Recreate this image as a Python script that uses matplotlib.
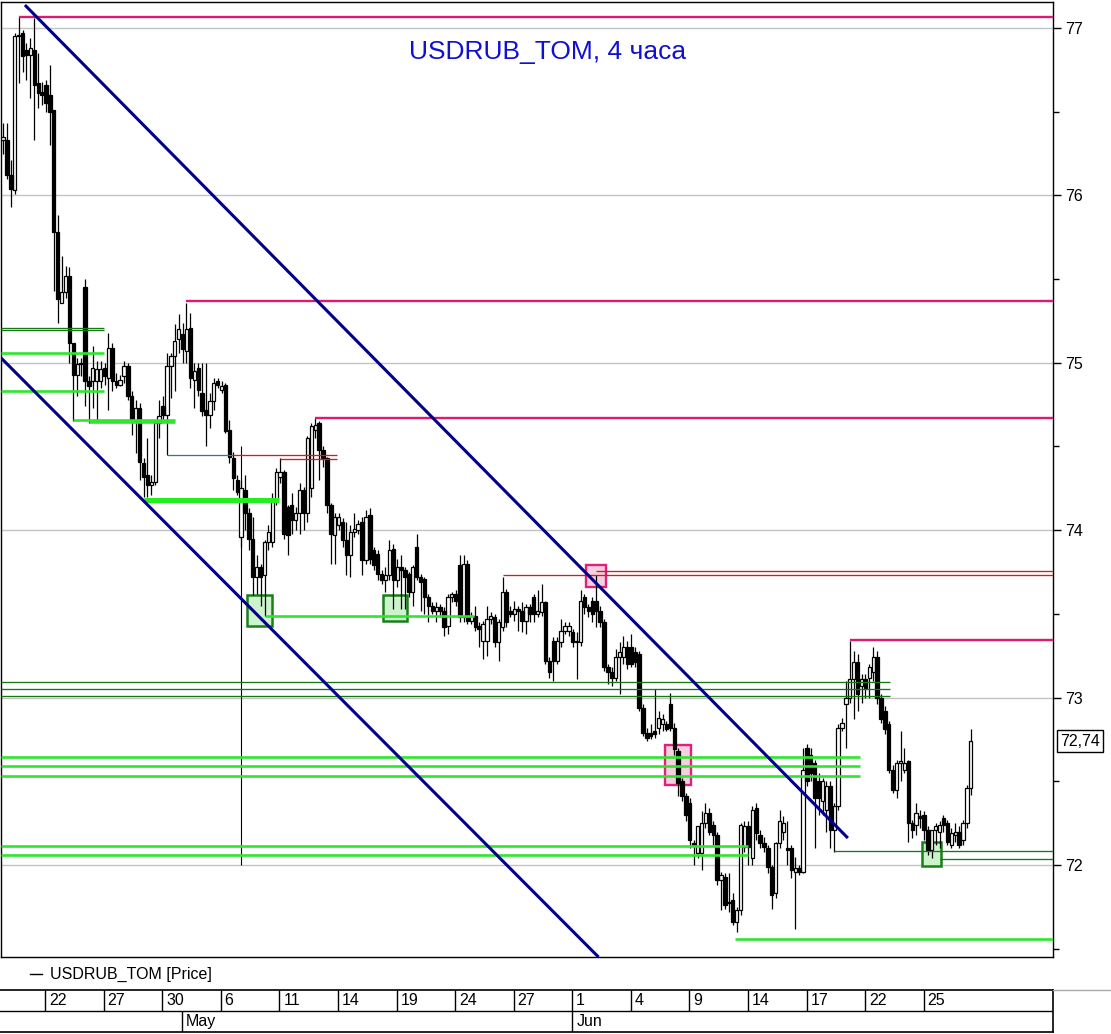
import matplotlib
matplotlib.use("Agg")
import matplotlib.pyplot as plt
from matplotlib.patches import Rectangle
from matplotlib.lines import Line2D
import numpy as np

# 4h bars (open, high, low, close), five bars a trading day
apr = [
    (76.33, 76.43, 76.25, 76.35), (76.33, 76.43, 76.10, 76.12), (76.12, 76.21, 75.93, 76.04),
    (76.03, 76.97, 76.01, 76.95), (76.95, 77.07, 76.67, 76.96), (76.97, 76.99, 76.74, 76.83),
    (76.87, 76.91, 76.69, 76.84), (76.84, 76.94, 76.58, 76.88), (76.87, 77.06, 76.33, 76.66),
    (76.67, 76.85, 76.52, 76.61), (76.62, 76.68, 76.54, 76.60), (76.66, 76.69, 76.50, 76.55),
    (76.60, 76.78, 76.30, 76.50), (76.51, 76.51, 75.43, 75.78), (75.78, 75.88, 75.24, 75.38),
    (75.36, 75.64, 75.36, 75.42), (75.42, 75.58, 75.39, 75.52), (75.52, 75.57, 75.00, 75.12),
    (75.12, 75.12, 74.65, 74.93), (74.93, 75.03, 74.80, 74.99), (74.99, 75.03, 74.92, 75.00),
    (75.45, 75.50, 74.74, 74.89), (74.89, 74.92, 74.64, 74.86), (74.89, 75.10, 74.73, 74.97),
    (74.89, 75.01, 74.65, 74.96), (74.89, 75.01, 74.85, 74.96), (74.97, 75.00, 74.87, 74.92),
    (74.91, 75.18, 74.72, 75.09), (75.09, 75.12, 74.83, 74.89), (74.89, 74.94, 74.85, 74.87),
    (74.87, 74.93, 74.86, 74.90), (74.92, 75.01, 74.88, 74.98), (74.98, 75.00, 74.78, 74.80),
    (74.80, 74.83, 74.57, 74.66), (74.65, 74.78, 74.46, 74.73), (74.73, 74.76, 74.30, 74.41),
    (74.40, 74.43, 74.20, 74.32), (74.33, 74.55, 74.20, 74.27), (74.27, 74.33, 74.21, 74.29),
    (74.29, 74.66, 74.27, 74.64), (74.64, 74.78, 74.55, 74.68), (74.74, 74.80, 74.66, 74.69),
]
may_a = [
    (74.69, 75.06, 74.45, 74.98), (74.98, 75.06, 74.79, 75.04), (75.04, 75.23, 74.83, 75.13),
    (75.14, 75.29, 75.06, 75.20), (75.17, 75.24, 75.00, 75.08), (75.07, 75.36, 75.00, 75.20),
    (75.21, 75.30, 74.85, 74.91), (74.90, 75.00, 74.73, 74.95), (74.97, 75.00, 74.80, 74.84),
    (74.82, 75.00, 74.68, 74.71), (74.72, 75.00, 74.50, 74.69), (74.69, 74.82, 74.61, 74.77),
    (74.77, 74.91, 74.72, 74.88), (74.89, 74.91, 74.85, 74.87), (74.84, 74.89, 74.82, 74.86),
    (74.87, 74.88, 74.58, 74.59), (74.60, 74.66, 74.40, 74.44), (74.43, 74.47, 74.24, 74.31),
    (74.30, 74.33, 74.21, 74.23), (73.96, 74.30, 73.90, 74.25), (74.24, 74.33, 74.00, 74.10),
    (74.10, 74.13, 73.88, 73.95), (73.95, 74.08, 73.61, 73.72), (73.72, 73.85, 73.62, 73.78),
    (73.78, 73.80, 73.55, 73.72), (73.73, 73.94, 73.49, 73.93), (73.93, 74.03, 73.88, 73.99),
    (73.93, 74.22, 73.90, 74.18), (74.18, 74.37, 74.15, 74.35), (74.32, 74.43, 74.28, 74.35),
    (74.35, 74.36, 73.95, 73.98), (74.14, 74.15, 73.85, 73.97), (74.15, 74.22, 73.98, 74.06),
    (74.06, 74.14, 74.00, 74.10), (74.10, 74.28, 73.98, 74.24), (74.24, 74.26, 74.00, 74.10),
    (74.10, 74.56, 74.05, 74.55), (74.25, 74.64, 74.20, 74.62), (74.60, 74.67, 74.55, 74.63),
    (74.64, 74.65, 74.30, 74.48), (74.48, 74.50, 74.38, 74.43), (74.43, 74.44, 74.10, 74.15),
    (74.15, 74.16, 73.80, 73.98),
]
may_b = [
    (73.97, 74.10, 73.80, 74.08), (74.03, 74.10, 74.00, 74.08), (74.05, 74.07, 73.90, 73.94),
    (73.94, 74.05, 73.73, 73.85), (73.85, 74.03, 73.72, 73.99), (73.99, 74.10, 73.96, 74.01),
    (74.00, 74.06, 73.98, 74.04), (74.05, 74.08, 73.73, 73.82), (73.82, 74.12, 73.80, 74.08),
    (74.09, 74.13, 73.80, 73.83), (73.88, 73.90, 73.76, 73.79), (73.86, 73.88, 73.70, 73.74),
    (73.74, 73.76, 73.68, 73.70), (73.70, 73.78, 73.63, 73.73), (73.73, 73.94, 73.70, 73.88),
    (73.89, 73.92, 73.53, 73.70), (73.70, 73.83, 73.66, 73.78), (73.78, 73.85, 73.53, 73.76),
    (73.76, 73.78, 73.53, 73.72), (73.74, 73.75, 73.60, 73.63), (73.63, 73.79, 73.55, 73.78),
    (73.90, 73.98, 73.70, 73.72), (73.72, 73.74, 73.52, 73.69), (73.71, 73.72, 73.50, 73.60),
    (73.60, 73.62, 73.45, 73.55), (73.55, 73.57, 73.50, 73.52), (73.52, 73.57, 73.45, 73.54),
    (73.54, 73.56, 73.48, 73.52), (73.52, 73.54, 73.37, 73.42), (73.43, 73.62, 73.38, 73.60),
    (73.60, 73.63, 73.57, 73.62), (73.62, 73.64, 73.55, 73.58), (73.79, 73.85, 73.45, 73.48),
    (73.48, 73.85, 73.45, 73.80), (73.80, 73.82, 73.44, 73.46), (73.46, 73.51, 73.44, 73.49),
    (73.49, 73.55, 73.40, 73.42), (73.43, 73.45, 73.30, 73.41), (73.34, 73.46, 73.23, 73.44),
    (73.34, 73.55, 73.25, 73.47), (73.47, 73.51, 73.44, 73.49), (73.48, 73.50, 73.30, 73.33),
    (73.33, 73.47, 73.22, 73.45), (73.42, 73.72, 73.40, 73.63), (73.63, 73.65, 73.42, 73.45),
    (73.52, 73.55, 73.48, 73.50), (73.50, 73.58, 73.46, 73.53), (73.53, 73.55, 73.40, 73.52),
    (73.52, 73.57, 73.39, 73.46), (73.46, 73.56, 73.38, 73.54), (73.54, 73.56, 73.45, 73.50),
    (73.60, 73.62, 73.45, 73.50), (73.50, 73.64, 73.48, 73.52), (73.51, 73.68, 73.49, 73.57),
    (73.57, 73.58, 73.20, 73.22), (73.22, 73.24, 73.12, 73.15), (73.34, 73.36, 73.10, 73.22),
    (73.22, 73.36, 73.20, 73.34), (73.33, 73.47, 73.30, 73.40), (73.40, 73.45, 73.38, 73.43),
    (73.40, 73.45, 73.37, 73.43),
]
jun_a = [
    (73.39, 73.41, 73.30, 73.33), (73.33, 73.39, 73.11, 73.34), (73.33, 73.64, 73.31, 73.58),
    (73.60, 73.62, 73.50, 73.54), (73.54, 73.56, 73.48, 73.52), (73.58, 73.60, 73.45, 73.50),
    (73.58, 73.73, 73.42, 73.52), (73.52, 73.55, 73.42, 73.45), (73.45, 73.47, 73.16, 73.18),
    (73.18, 73.20, 73.08, 73.15), (73.15, 73.18, 73.07, 73.12), (73.12, 73.29, 73.10, 73.24),
    (73.24, 73.33, 73.02, 73.27), (73.24, 73.37, 73.20, 73.30), (73.30, 73.34, 73.17, 73.20),
    (73.30, 73.38, 73.18, 73.20), (73.27, 73.30, 73.18, 73.21), (73.26, 73.28, 72.92, 72.94),
    (72.94, 72.96, 72.77, 72.79), (72.79, 72.82, 72.74, 72.76), (72.79, 72.84, 72.75, 72.77),
    (72.80, 73.05, 72.76, 72.78), (72.82, 72.92, 72.78, 72.88), (72.84, 72.90, 72.80, 72.87),
    (72.84, 72.86, 72.80, 72.81), (72.96, 73.03, 72.80, 72.82), (72.82, 72.85, 72.66, 72.69),
    (72.68, 72.70, 72.41, 72.49), (72.50, 72.52, 72.38, 72.41), (72.41, 72.43, 72.26, 72.30),
    (72.37, 72.40, 72.10, 72.15), (72.13, 72.15, 72.00, 72.12), (72.07, 72.23, 72.04, 72.23),
    (72.07, 72.32, 71.97, 72.25), (72.25, 72.37, 72.22, 72.31), (72.31, 72.34, 72.18, 72.20),
    (72.24, 72.26, 72.12, 72.18), (72.18, 72.20, 71.88, 71.91), (71.91, 71.96, 71.73, 71.94),
    (71.93, 71.95, 71.74, 71.76), (71.78, 71.95, 71.72, 71.77), (71.79, 71.83, 71.64, 71.66),
    (71.66, 71.75, 71.60, 71.73), (71.73, 72.25, 71.70, 72.24), (72.11, 72.26, 72.08, 72.23),
    (72.23, 72.26, 72.00, 72.11), (72.04, 72.35, 72.00, 72.33), (72.34, 72.37, 72.15, 72.19),
    (72.18, 72.21, 72.10, 72.13), (72.13, 72.17, 72.08, 72.11), (72.10, 72.12, 71.95, 71.99),
    (71.99, 72.00, 71.74, 71.82), (71.83, 72.14, 71.80, 72.13), (72.13, 72.33, 72.10, 72.26),
    (72.20, 72.29, 72.15, 72.25), (72.10, 72.26, 72.00, 72.09), (72.10, 72.12, 71.92, 71.97),
    (71.96, 72.05, 71.62, 71.98), (71.98, 72.00, 71.94, 71.96), (71.96, 72.70, 71.95, 72.57),
]
jun_b = [
    (72.70, 72.72, 72.47, 72.50), (72.66, 72.70, 72.50, 72.55), (72.61, 72.63, 72.10, 72.40),
    (72.50, 72.55, 72.30, 72.40), (72.38, 72.52, 72.30, 72.50), (72.33, 72.50, 72.20, 72.47),
    (72.47, 72.50, 72.10, 72.21), (72.21, 72.37, 72.08, 72.35), (72.35, 72.84, 72.33, 72.82),
    (72.82, 72.88, 72.80, 72.85), (72.96, 73.10, 72.70, 73.00), (73.00, 73.34, 72.97, 73.11),
    (73.11, 73.28, 72.87, 73.21), (73.21, 73.26, 72.92, 73.02), (73.07, 73.14, 72.97, 73.11),
    (73.11, 73.14, 73.00, 73.06), (73.12, 73.20, 73.00, 73.18), (73.15, 73.30, 73.10, 73.24),
    (73.24, 73.28, 72.96, 73.00), (73.00, 73.02, 72.85, 72.87), (72.92, 72.95, 72.78, 72.81),
    (72.84, 72.86, 72.55, 72.57), (72.57, 72.60, 72.43, 72.45), (72.45, 72.63, 72.40, 72.61),
    (72.61, 72.80, 72.50, 72.62), (72.57, 72.70, 72.55, 72.61), (72.62, 72.63, 72.14, 72.25),
    (72.25, 72.27, 72.16, 72.21), (72.24, 72.37, 72.18, 72.31), (72.29, 72.33, 72.22, 72.28),
    (72.30, 72.32, 72.15, 72.21), (72.21, 72.23, 72.06, 72.09), (72.09, 72.21, 72.04, 72.21),
    (72.21, 72.25, 72.12, 72.23), (72.20, 72.26, 72.10, 72.24), (72.28, 72.30, 72.20, 72.24),
    (72.25, 72.27, 72.12, 72.14), (72.12, 72.22, 72.10, 72.19), (72.18, 72.25, 72.14, 72.20),
    (72.20, 72.23, 72.10, 72.12), (72.15, 72.27, 72.12, 72.25), (72.25, 72.48, 72.22, 72.46),
    (72.46, 72.81, 72.42, 72.74),
]

day_labels = ['22', '27', '30', '6', '11', '14', '19', '24', '27', '1', '4', '9', '14', '17', '22', '25']
day_bar = [11, 26, 41, 56, 71, 86, 101, 116, 131, 146, 161, 176, 191, 206, 221, 236]
month_labels = ['May', 'Jun']
month_bar = [46, 146]
last_price = 72.74

# drawn levels: (price, first bar, last bar), None = to the plot edge
pink_levels = [(77.066, 4, None), (75.369, 47, None), (74.670, 80, None), (73.344, 217, None)]
red_levels = [(73.757, 152, None), (73.733, 128, None), (74.451, 59, 85.6), (74.425, 71, 85.6)]
teal_levels = [(74.451, 42, 59)]
dark_green_levels = [(75.207, None, 25.8), (75.195, None, 25.8),
                     (73.093, None, 227.2), (73.051, None, 227.2), (73.010, None, 227.2),
                     (72.084, 213, None), (72.036, 240.2, None)]
lime_levels = [(75.058, None, 25.8), (74.830, None, 25.8), (74.660, 18, 44), (74.648, 22, 44),
               (73.490, 67, 120.6), (72.645, None, 219.5), (72.591, None, 219.5),
               (72.532, None, 219.5), (72.113, None, 190.9), (72.060, None, 190.9),
               (71.558, 187.6, None)]
lime_thick_levels = [(74.180, 36, 70.8)]

# channel: two (bar, price) points per line
channel_top = [(5.6, 77.137), (216.5, 72.161)]
channel_bottom = [(-0.77, 75.035), (152.6, 71.45)]

# marked zones: (bar from, bar to, price low, price high)
pink_boxes = [(149.4, 154.5, 73.660, 73.790), (169.6, 176.4, 72.475, 72.715)]
green_boxes = [(62.5, 68.8, 73.425, 73.610), (97.3, 103.6, 73.460, 73.610), (235.5, 240.3, 71.995, 72.135)]

W, H = 1111, 1034
fig = plt.figure(figsize=(W / 100, H / 100), dpi=100)
ax = fig.add_axes([1 / W, 1 - 957 / H, 1052 / W, 955 / H])
x0, x1 = -0.53, 269.07
ax.set_xlim(x0, x1)
ax.set_ylim(71.4504, 77.1553)

bars = np.array(apr + may_a + may_b + jun_a + jun_b)
op, hi, lo, cl = bars.T
xs = np.arange(len(bars))

ax.vlines(xs, lo, hi, color='black', lw=0.9, zorder=3)
up = cl >= op
body_lo = np.minimum(op, cl)
body_h = np.maximum(np.abs(cl - op), 0.007)
ax.bar(xs[up], body_h[up], bottom=body_lo[up], width=0.85, color='white',
       edgecolor='black', lw=0.9, zorder=4)
ax.bar(xs[~up], body_h[~up], bottom=body_lo[~up], width=0.85, color='black',
       edgecolor='black', lw=0.9, zorder=4)

# extra vertical marker from the 6 May bar
ax.vlines(61, 72.0, 74.5, color='black', lw=0.8, zorder=3)


def levels(rows, **kw):
    for p, a, b in rows:
        a = x0 if a is None else a
        b = x1 if b is None else b
        ax.plot([a, b], [p, p], solid_capstyle='butt', zorder=6, **kw)


levels(pink_levels, color='#dc1a72', lw=1.7)
levels(red_levels, color='#d01e1e', lw=0.95)
levels(teal_levels, color='#2a7f86', lw=0.9)
levels(dark_green_levels, color='#137a13', lw=0.95)
levels(lime_levels, color='#2ee62e', lw=1.9)
levels(lime_thick_levels, color='#22ee22', lw=3.6)

for pts in (channel_top, channel_bottom):
    ax.plot([pts[0][0], pts[1][0]], [pts[0][1], pts[1][1]], color='#00008b', lw=2.2,
            solid_capstyle='butt', zorder=7)

for a, b, p0, p1 in pink_boxes:
    ax.add_patch(Rectangle((a, p0), b - a, p1 - p0, facecolor='#f6cfe0', edgecolor='#e0207a',
                           lw=1.7, zorder=2))
for a, b, p0, p1 in green_boxes:
    ax.add_patch(Rectangle((a, p0), b - a, p1 - p0, facecolor='#cdf3cd', edgecolor='#1a7f1a',
                           lw=1.8, zorder=2))

ax.set_axisbelow(True)
ax.yaxis.grid(True, color='#c3c3c3', lw=1)
ax.yaxis.tick_right()
ax.set_yticks(np.arange(72, 78))
ax.set_yticklabels([str(v) for v in range(72, 78)])
ax.set_yticks(np.arange(71.5, 77.5, 1), minor=True)
ax.set_xticks([])
ax.tick_params(axis='y', which='major', direction='out', length=6, width=1, labelsize=11.5, pad=3)
ax.tick_params(axis='y', which='minor', direction='out', length=4, width=1)
for s in ax.spines.values():
    s.set_color('black')
    s.set_linewidth(1)
for t in ax.get_yticklabels():
    t.set_family(['Liberation Sans', 'DejaVu Sans'])

ax.text(1.0067, last_price, f'{last_price:.2f}'.replace('.', ','),
        transform=ax.get_yaxis_transform(), va='center', ha='left', fontsize=11.5,
        family=['Liberation Sans', 'DejaVu Sans'], clip_on=False,
        bbox=dict(boxstyle='square,pad=0.2', facecolor='white', edgecolor='black', lw=1))

ax.text(0.52, 0.9476, "USDRUB_TOM, 4 часа", transform=ax.transAxes, ha='center', va='center',
        fontsize=19, color='#1010d0', family=['Liberation Sans', 'DejaVu Sans'])

# legend row
narrow = ['Liberation Sans Narrow', 'Liberation Sans', 'DejaVu Sans']
fig.add_artist(Line2D([30 / W, 42 / W], [1 - 974 / H] * 2, color='black', lw=1))
fig.text(50 / W, 1 - 974 / H, 'USDRUB_TOM [Price]', va='center', ha='left', fontsize=11.5,
         family=narrow)

# date strip
dx = fig.add_axes([0, 2 / H, 1053 / W, 42 / H])
dx.set_xlim(x0, x1)
dx.set_ylim(0, 2)
dx.set_xticks([])
dx.set_yticks([])
dx.spines['left'].set_visible(False)
for s in ('top', 'bottom', 'right'):
    dx.spines[s].set_linewidth(1.2)
dx.axhline(1, color='black', lw=1)
for b, lab in zip(day_bar, day_labels):
    dx.vlines(b, 1, 2, color='black', lw=1)
    dx.text(b + 1.0, 1.5, lab, va='center', ha='left', fontsize=11.5, family=narrow)
for b, lab in zip(month_bar, month_labels):
    dx.vlines(b, 0, 1, color='black', lw=1)
    dx.text(b + 1.0, 0.5, lab, va='center', ha='left', fontsize=11.5, family=narrow)
fig.add_artist(Line2D([1053 / W, 1], [1 - 990 / H] * 2, color='#a8a8a8', lw=1))

fig.savefig('out.png', dpi=100)
